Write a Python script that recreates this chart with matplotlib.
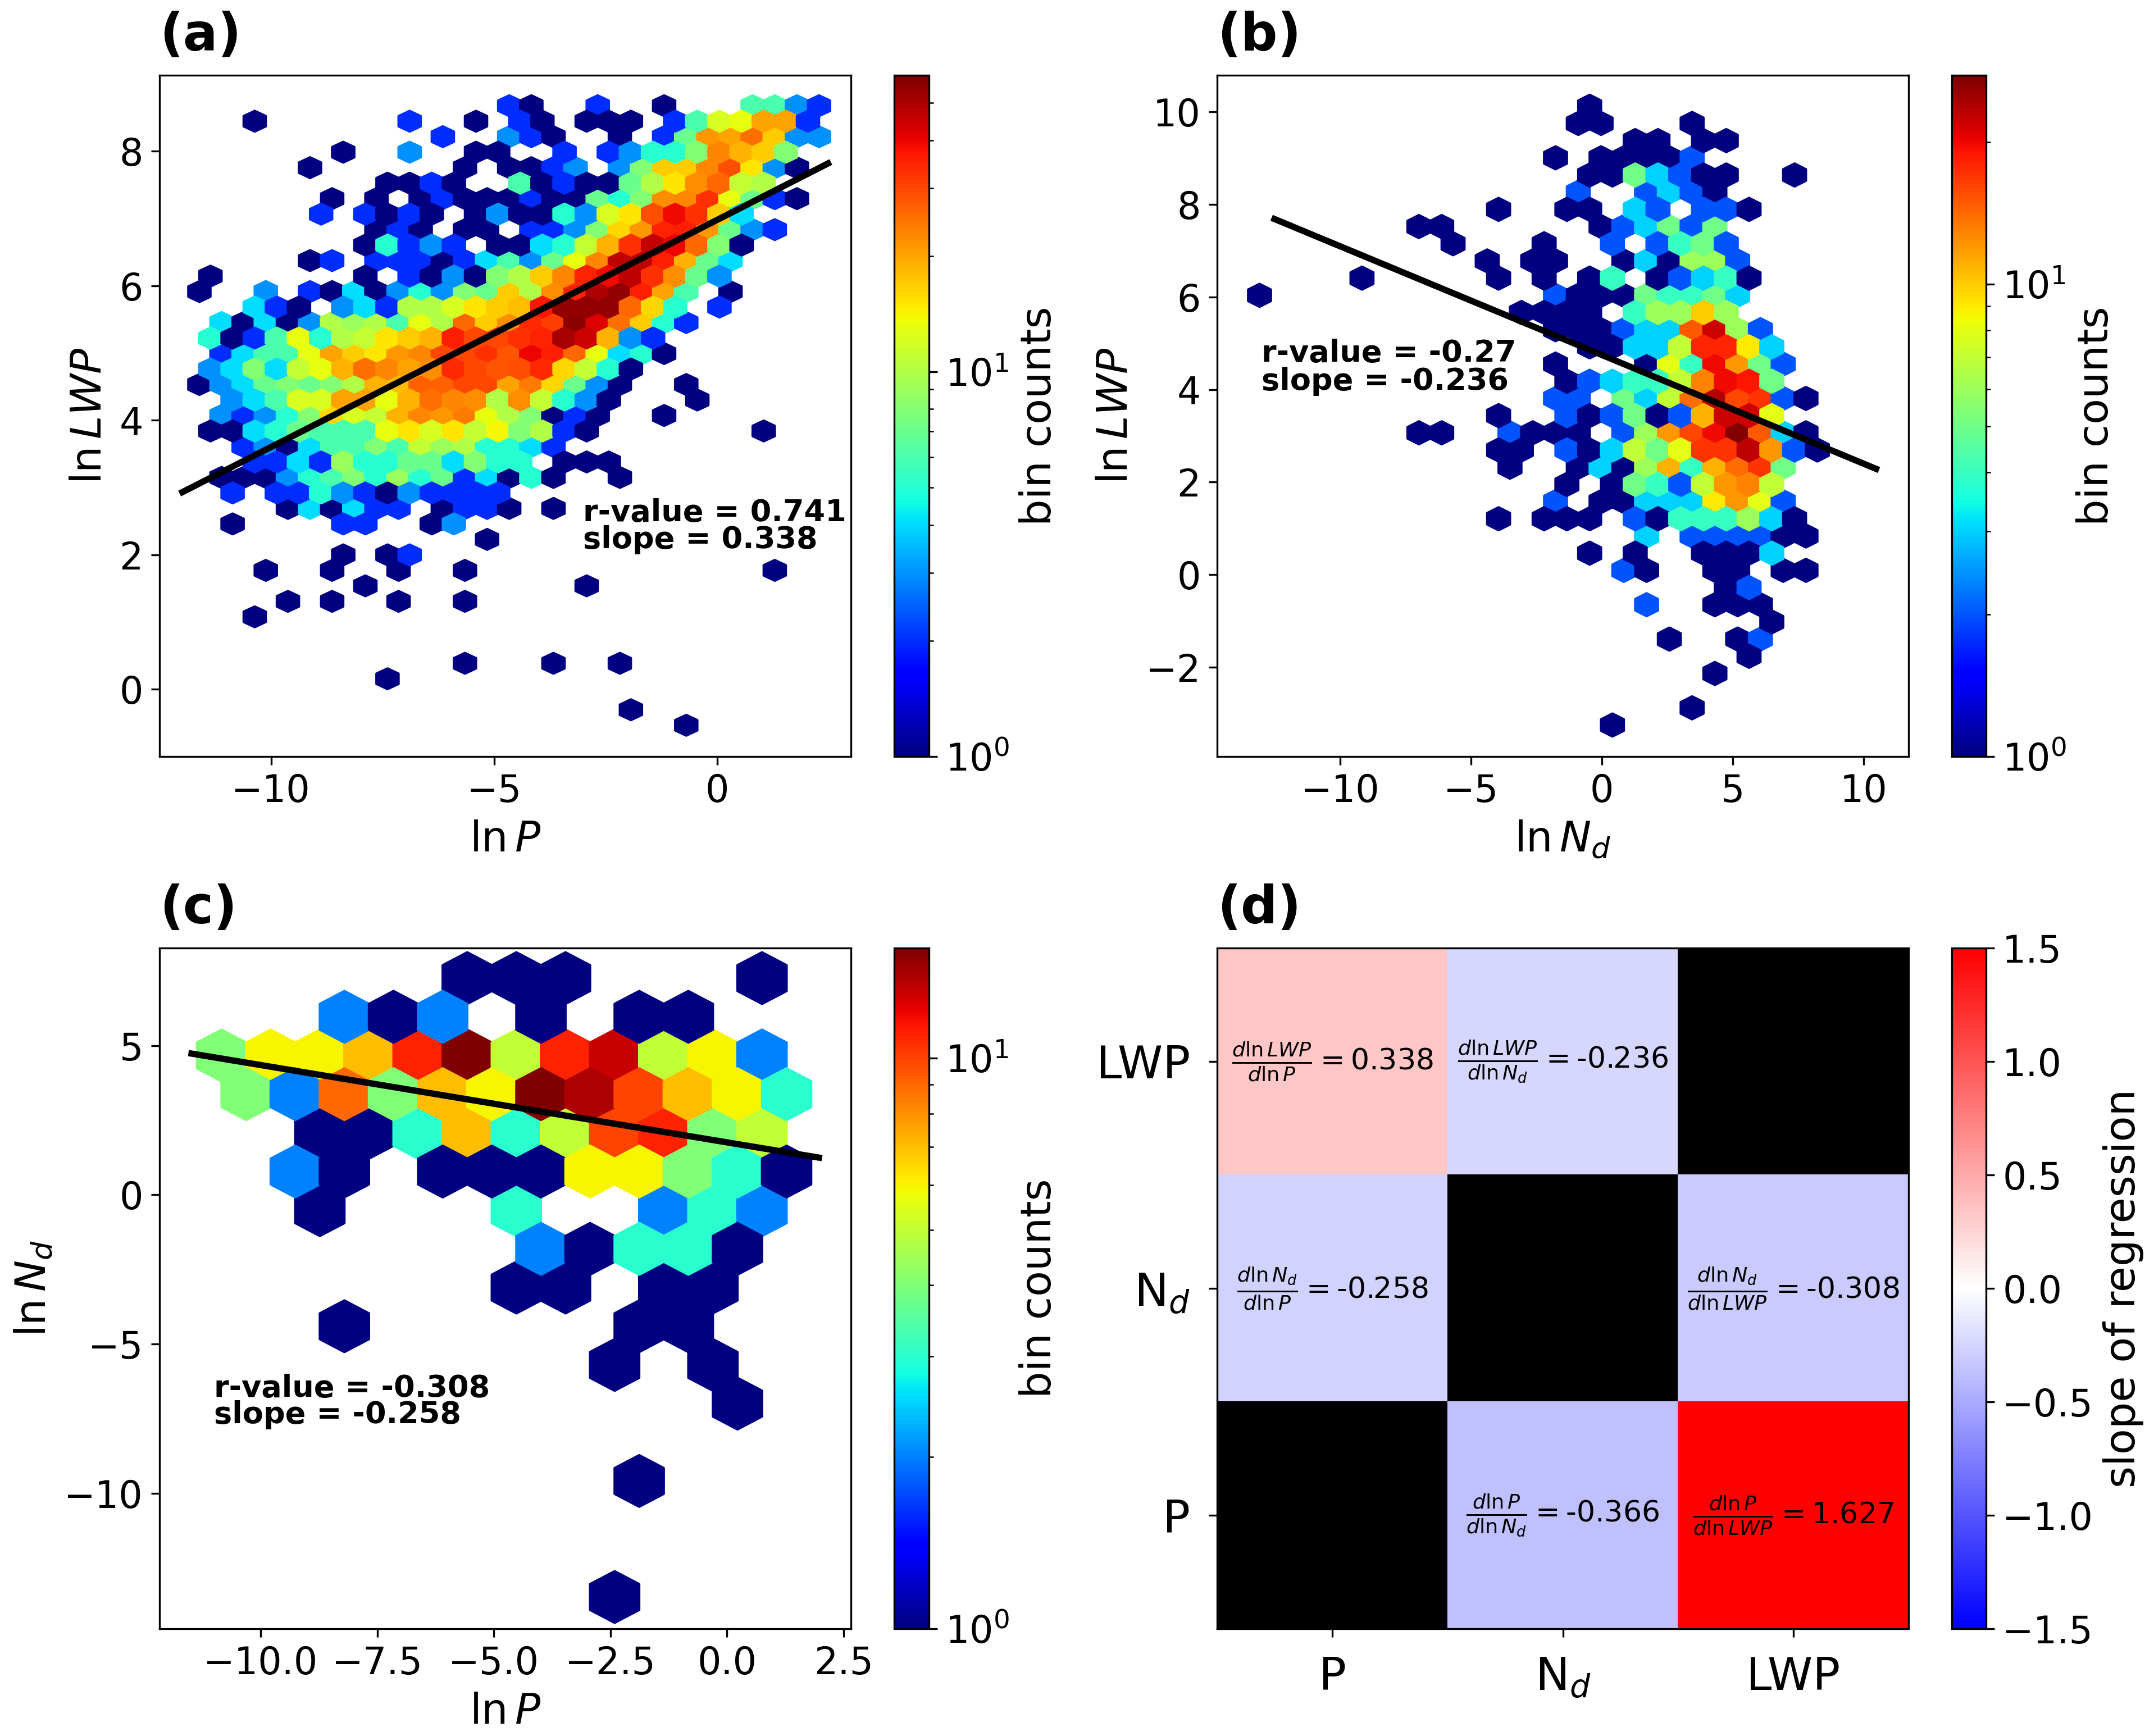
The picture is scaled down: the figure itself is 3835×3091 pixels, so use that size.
import matplotlib as mpl
mpl.use('Agg')
from matplotlib import pyplot as plt
from matplotlib.colors import LogNorm
import numpy as np

W, H = 3835, 3091

# hexagon bins: every entry is (row, first column, counts)
# columns go in steps of 2 along a row, 0 means an empty bin
a_rows = [-1, 0, 1, 2, 3, 4, 5, 6, 7, 8, 9, 10, 11, 12, 13, 14, 15, 16, 17, 18, 19,
          20, 21, 22, 23, 24, 25, 26, 27, 28, 29, 29, 30, 30, 31, 32, 35, 36, 38, 39]
a_first = [23, 0, 17, 8, 5, 12, 7, 6, 11, 10, 5, -4, -5, 0, -3, -4, -3, -4, -5, -2, -3,
           -4, -1, 0, -3, -2, 3, -2, 21, 8, 1, 47, 10, 30, 3, 0, 19, 12, 34, 39]
a_counts = [
    [2, 1, 0, 0, 2, 0, 0, 1, 0, 0, 0, 6, 6, 3, 2],
    [1, 0, 0, 0, 0, 0, 0, 2, 0, 0, 1, 0, 2, 1, 0, 1, 1, 1, 0, 2, 6, 12, 13, 20, 20, 2],
    [2, 0, 0, 3, 2, 1, 0, 0, 1, 0, 2, 7, 21, 20, 25, 17, 3, 3],
    [1, 0, 0, 3, 0, 0, 1, 1, 0, 0, 2, 0, 2, 3, 5, 5, 8, 23, 19, 17, 8],
    [1, 0, 0, 0, 0, 0, 0, 1, 0, 1, 1, 2, 3, 0, 3, 8, 17, 17, 23, 29, 15, 3, 1],
    [1, 1, 2, 1, 0, 0, 6, 1, 2, 1, 1, 7, 10, 15, 22, 26, 11, 10],
    [1, 0, 1, 0, 1, 2, 1, 1, 1, 2, 1, 1, 7, 5, 8, 22, 23, 33, 13, 7, 2, 1],
    [2, 0, 2, 1, 2, 1, 0, 1, 3, 1, 1, 5, 3, 12, 15, 29, 39, 33, 17, 4],
    [1, 2, 1, 0, 1, 1, 0, 2, 2, 3, 8, 16, 21, 35, 36, 21, 7, 3, 2],
    [1, 5, 2, 3, 2, 0, 1, 1, 4, 5, 11, 19, 33, 46, 40, 26, 8, 1],
    [1, 2, 0, 2, 2, 2, 1, 2, 4, 6, 3, 7, 13, 23, 47, 47, 36, 19, 7, 4],
    [1, 0, 0, 0, 0, 0, 0, 1, 0, 2, 1, 3, 1, 8, 10, 17, 23, 35, 39, 47, 33, 22, 7, 3],
    [1, 0, 0, 3, 0, 2, 1, 4, 1, 3, 5, 3, 8, 7, 17, 10, 22, 35, 50, 55, 36, 20, 6, 0, 1],
    [4, 2, 1, 0, 3, 4, 2, 10, 10, 12, 15, 17, 18, 37, 55, 55, 55, 26, 16, 5, 0, 2],
    [4, 1, 4, 1, 3, 10, 9, 10, 6, 13, 10, 26, 17, 22, 34, 31, 56, 42, 25, 17, 5, 2],
    [5, 1, 2, 6, 13, 5, 10, 11, 15, 17, 19, 36, 30, 30, 33, 35, 51, 45, 19, 3, 2],
    [2, 4, 6, 6, 13, 20, 17, 15, 21, 23, 30, 30, 33, 28, 40, 36, 26, 13, 4, 5, 1],
    [3, 4, 8, 4, 11, 13, 19, 25, 23, 20, 22, 34, 30, 28, 29, 34, 16, 11, 5, 1],
    [1, 3, 4, 7, 8, 7, 8, 10, 19, 18, 27, 27, 30, 30, 20, 24, 16, 7, 3, 1, 0, 0, 1],
    [3, 4, 6, 12, 12, 20, 20, 13, 19, 25, 23, 22, 10, 22, 11, 5, 3, 1, 0, 0, 0, 1],
    [3, 2, 3, 5, 8, 16, 12, 11, 19, 23, 21, 24, 13, 10, 8, 1, 2, 1, 0, 0, 1],
    [1, 1, 4, 5, 7, 6, 6, 6, 13, 15, 12, 15, 11, 14, 8, 10, 2, 1, 0, 0, 0, 0, 0, 0, 0, 1],
    [2, 3, 1, 4, 6, 6, 8, 6, 11, 9, 10, 5, 5, 4, 2],
    [2, 2, 4, 2, 9, 5, 5, 7, 7, 4, 8, 5, 5, 0, 1, 1, 1],
    [1, 1, 1, 3, 5, 6, 8, 5, 9, 5, 7, 2, 4, 1, 5, 1, 0, 0, 1],
    [2, 0, 2, 2, 5, 3, 2, 1, 3, 2, 2, 2, 2],
    [1, 4, 1, 4, 2, 2, 0, 1, 2, 2, 1, 0, 1],
    [1, 0, 0, 0, 0, 2, 2, 0, 0, 1, 3],
    [1],
    [1, 0, 1, 2],
    [1, 0, 0, 1, 0, 0, 1, 0, 0, 1],
    [1],
    [1],
    [1],
    [1, 0, 1, 0, 0, 1, 0, 0, 1],
    [1],
    [1, 0, 0, 0, 1, 0, 0, 1],
    [1],
    [1],
    [1],
]

b_rows = [-11, -10, -10, -9, -8, -7, -7, -6, -5, -5, -4, -4, -3, -3, -3, -2, -2, -2,
          -1, -1, -1, -1, 0, 0, 1, 2, 3, 4, 4, 5, 6, 7, 7, 8, 8, 9, 9, 10, 10, 11, 11,
          12, 13, 13, 13, 14, 14, 15, 15, 15, 16, 16, 16, 17, 18, 18, 19, 20, 20, 21, 22, 24, 25]
b_first = [29, 28, 38, 33, 26, 29, 47, 28, 21, 27, 14, 30, 17, 25, 31, 20, 24, 32,
           9, 21, 25, 29, 0, 26, 23, 26, 29, 26, 34, 27, 26, 21, 27, 14, 22, 21, 27, 22, 28, 27, 31,
           26, 21, 25, 33, 34, 38, 29, 33, 39, 32, 40, 46, 41, 34, 40, 45, 36, 42, 43, 40, 38, 31]
b_counts = [
    [1], [1, 1], [1], [1, 1, 0, 1, 1], [1, 0, 1, 1, 1, 1, 2],
    [1, 1, 5, 3, 2, 1, 1], [1], [2, 0, 0, 2, 3, 2, 1],
    [1], [1, 1, 0, 3, 2, 0, 2, 2, 1],
    [1, 1], [1, 2, 3, 5, 2, 5],
    [1], [1], [2, 0, 2, 4, 5, 2],
    [1], [1, 1], [1, 3, 1, 6, 6, 2],
    [1], [1], [1], [1, 4, 0, 1, 2, 3, 4, 1],
    [1], [2, 1, 1, 1, 5, 4, 4, 5, 3],
    [1, 1, 1, 1, 0, 4, 6, 6, 10, 6],
    [1, 1, 1, 2, 3, 3, 15, 22, 6, 2],
    [1, 1, 3, 3, 7, 18, 18, 9, 3],
    [1], [1, 8, 4, 20, 12, 5, 2],
    [1, 2, 3, 4, 4, 7, 13, 20, 19, 5],
    [2, 2, 0, 5, 3, 7, 14, 24, 16, 17, 2, 1],
    [1], [2, 1, 2, 5, 1, 2, 11, 22, 22, 8],
    [1, 1], [2, 1, 1, 1, 0, 2, 6, 12, 16, 20, 27, 15, 3, 1],
    [1, 1], [2, 1, 3, 7, 5, 8, 17, 17, 23, 12, 2, 1],
    [1], [1, 3, 1, 6, 11, 4, 11, 14, 17, 5],
    [1], [1, 5, 4, 2, 7, 12, 13, 7],
    [2, 0, 1, 1, 3, 3, 3, 9, 12, 8, 2],
    [1], [1, 1, 1], [2, 1, 4, 4, 4, 6, 3, 1],
    [3], [2, 2, 2, 2, 1, 1],
    [1], [1], [1, 1, 1, 3],
    [2, 1], [1, 1], [1, 1],
    [1, 2],
    [2], [1, 1, 1],
    [1],
    [1], [1, 2],
    [1], [1], [1], [1],
]

c_rows = [0, 0, 1, 2, 3, 4, 5, 5, 6, 6, 6, 7, 8, 8, 9, 9, 10, 10, 11, 13, 16]
c_first = [10, 22, 5, 0, 1, 4, 3, 9, 4, 12, 18, 13, 12, 18, 5, 17, 16, 20, 21, 17, 16]
c_counts = [
    [1, 1, 1], [1],
    [2, 1, 2, 0, 1, 0, 1, 1],
    [4, 6, 6, 7, 11, 16, 5, 11, 13, 5, 6, 2],
    [4, 2, 9, 4, 7, 6, 16, 14, 10, 7, 6, 3],
    [1, 1, 3, 7, 3, 5, 10, 11, 4, 5],
    [2, 1], [1, 1, 1, 6, 6, 4, 3, 1],
    [1], [3], [2, 3, 2],
    [2, 1, 3, 3, 1],
    [1, 1], [1, 1],
    [1], [1, 1],
    [1], [1],
    [1], [1], [1],
]

# fit lines, two end points each
a_fit_x, a_fit_y = [-12.05, 2.55], [2.91, 7.84]
b_fit_x, b_fit_y = [-12.62, 10.59], [7.71, 2.26]
c_fit_x, c_fit_y = [-11.55, 2.04], [4.75, 1.23]

# slope matrix for panel (d), top row first
d_rows = ['LWP', r'N$_d$', 'P']
d_cols = ['P', r'N$_d$', 'LWP']
d_slopes = [[0.338, -0.236, np.nan],
            [-0.258, np.nan, -0.308],
            [np.nan, -0.366, 1.627]]
d_text = [[r'$\frac{d\ln LWP}{d\ln P}=$0.338', r'$\frac{d\ln LWP}{d\ln N_d}=$-0.236', ''],
          [r'$\frac{d\ln N_d}{d\ln P}=$-0.258', '', r'$\frac{d\ln N_d}{d\ln LWP}=$-0.308'],
          ['', r'$\frac{d\ln P}{d\ln N_d}=$-0.366', r'$\frac{d\ln P}{d\ln LWP}=$1.627']]


def px_axes(left, top, right, bottom):
    return fig.add_axes([left/W, 1-bottom/H, (right-left)/W, (bottom-top)/H])


def hex_panel(ax, cax, rows, first, counts, col0, row0, xext, yext, grid, vmax):
    # bin index -> data value, columns and rows are half bin steps
    sx = (xext[1]-xext[0])/grid[0]
    sy = (yext[1]-yext[0])/grid[1]
    x, y, n = [], [], []
    for r, f, cs in zip(rows, first, counts):
        for i, c in enumerate(cs):
            if c > 0:
                x.append(xext[0] + (f+2*i-col0)*sx/2)
                y.append(yext[1] - (r-row0)*sy/2)
                n.append(c)
    hb = ax.hexbin(x, y, C=n, gridsize=grid, extent=(xext[0], xext[1], yext[0], yext[1]),
                   reduce_C_function=np.sum, cmap='jet', norm=LogNorm(1, vmax))
    cb = fig.colorbar(hb, cax=cax)
    cb.set_label('bin counts', fontsize=18)
    cb.ax.tick_params(labelsize=16)
    return hb


plt.rcParams['font.size'] = 16
plt.rcParams['xtick.labelsize'] = 16
plt.rcParams['ytick.labelsize'] = 16

fig = plt.figure(figsize=(W/300, H/300), dpi=300)

ax_a = px_axes(284, 134, 1515, 1347)
cax_a = px_axes(1592, 134, 1654, 1347)
hex_panel(ax_a, cax_a, a_rows, a_first, a_counts, -5, -1, (-11.606, 2.285), (-0.535, 8.677), (28, 20), 59)
ax_a.plot(a_fit_x, a_fit_y, 'k', lw=2.7, solid_capstyle='butt')
ax_a.set_xlim(-12.5, 3.0)
ax_a.set_ylim(-1.0, 9.13)
ax_a.set_xlabel(r'$\ln P$', fontsize=18)
ax_a.set_ylabel(r'$\ln LWP$', fontsize=18)
ax_a.set_title('(a)', loc='left', fontweight='bold', fontsize=22, pad=10.5)
ax_a.text(-3, 2.5, 'r-value = 0.741', fontweight='bold', fontsize=13)
ax_a.text(-3, 2.1, 'slope = 0.338', fontweight='bold', fontsize=13)

ax_b = px_axes(2167, 134, 3398, 1347)
cax_b = px_axes(3475, 134, 3536, 1347)
hex_panel(ax_b, cax_b, b_rows, b_first, b_counts, 0, -12, (-13.08, 8.67), (-3.621, 10.492), (25, 19), 27.7)
ax_b.plot(b_fit_x, b_fit_y, 'k', lw=2.7, solid_capstyle='butt')
ax_b.set_xlim(-14.7, 11.72)
ax_b.set_ylim(-3.93, 10.79)
ax_b.set_xlabel(r'$\ln N_d$', fontsize=18)
ax_b.set_ylabel(r'$\ln LWP$', fontsize=18)
ax_b.set_title('(b)', loc='left', fontweight='bold', fontsize=22, pad=10.5)
ax_b.text(-13, 4.6, 'r-value = -0.27', fontweight='bold', fontsize=13)
ax_b.text(-13, 4.0, 'slope = -0.236', fontweight='bold', fontsize=13)

ax_c = px_axes(284, 1688, 1515, 2900)
cax_c = px_axes(1592, 1688, 1654, 2900)
hex_panel(ax_c, cax_c, c_rows, c_first, c_counts, 0, 0, (-10.839, 1.807), (-13.477, 7.262), (12, 8), 15.6)
ax_c.plot(c_fit_x, c_fit_y, 'k', lw=2.7, solid_capstyle='butt')
ax_c.set_xlim(-12.17, 2.66)
ax_c.set_ylim(-14.54, 8.27)
ax_c.set_xlabel(r'$\ln P$', fontsize=18)
ax_c.set_ylabel(r'$\ln N_d$', fontsize=18)
ax_c.set_title('(c)', loc='left', fontweight='bold', fontsize=22, pad=10.5)
ax_c.text(-11, -6.76, 'r-value = -0.308', fontweight='bold', fontsize=13)
ax_c.text(-11, -7.65, 'slope = -0.258', fontweight='bold', fontsize=13)

ax_d = px_axes(2167, 1688, 3398, 2900)
cax_d = px_axes(3475, 1688, 3536, 2900)
cmap = plt.get_cmap('bwr').copy()
cmap.set_bad('k')
im = ax_d.imshow(d_slopes, cmap=cmap, vmin=-1.5, vmax=1.5, aspect='auto')
ax_d.set_xticks(range(3), d_cols, fontsize=19.5)
ax_d.set_yticks(range(3), d_rows, fontsize=19.5)
ax_d.tick_params(pad=8)
ax_d.set_title('(d)', loc='left', fontweight='bold', fontsize=22, pad=10.5)
for i in range(3):
    for j in range(3):
        if d_text[i][j]:
            ax_d.text(j, i, d_text[i][j], ha='center', va='center', fontsize=12.5)
cb_d = fig.colorbar(im, cax=cax_d)
cb_d.set_label('slope of regression', fontsize=18)
cb_d.ax.tick_params(labelsize=16)

fig.savefig('out.png', dpi=300)
